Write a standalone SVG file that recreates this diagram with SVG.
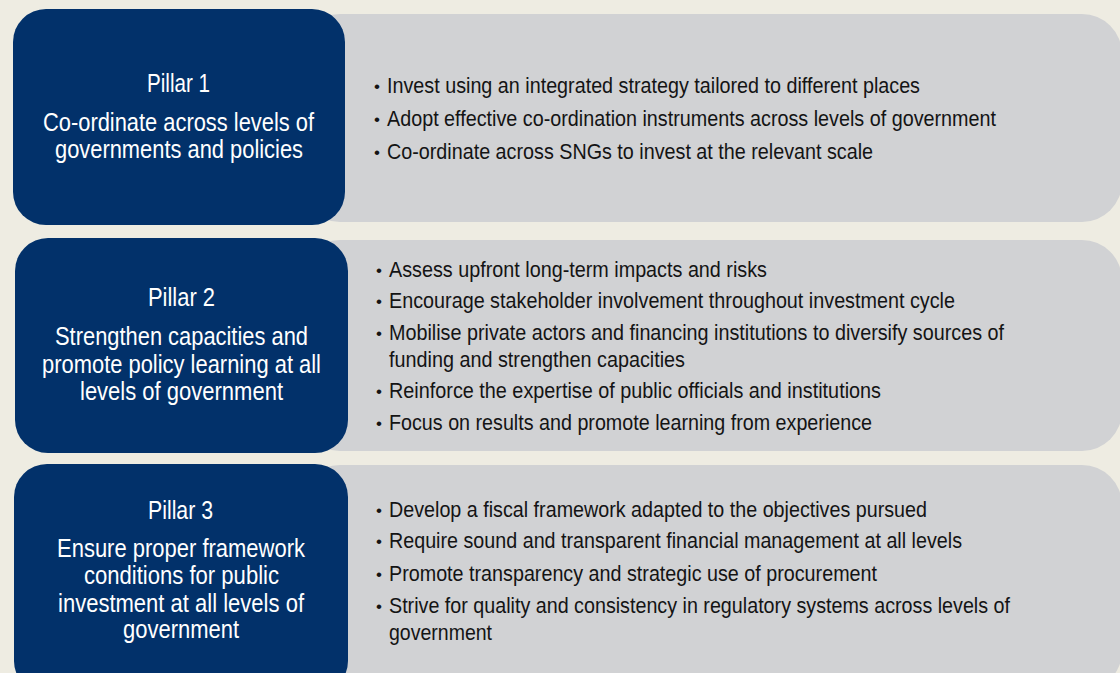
<svg xmlns="http://www.w3.org/2000/svg" width="1120" height="673" viewBox="0 0 1120 673">
<style>
.bg{fill:#EEECE2}
.gray{fill:#D1D2D4}
.navy{fill:#02316A}
.pt{font-family:"Liberation Sans",Arial,sans-serif;font-size:25px;fill:#FFFFFF;text-anchor:start}
.bt{font-family:"Liberation Sans",Arial,sans-serif;font-size:22px;fill:#141414}
.bu{font-family:"Liberation Sans",Arial,sans-serif;font-size:17px;fill:#141414}
</style>
<rect class="bg" x="0" y="0" width="1120" height="673"/>

<g id="pillar1">
  <rect class="gray" x="300" y="14" width="822" height="208" rx="40" ry="40"/>
  <rect class="navy" x="13" y="9" width="332" height="216" rx="33" ry="33"/>
  <text class="pt" x="147" y="92" textLength="63" lengthAdjust="spacingAndGlyphs">Pillar 1</text>
  <text class="pt" x="43" y="131" textLength="271" lengthAdjust="spacingAndGlyphs">Co-ordinate across levels of</text>
  <text class="pt" x="55" y="158" textLength="248" lengthAdjust="spacingAndGlyphs">governments and policies</text>
  <text class="bu" x="374" y="92">•</text>
  <text class="bt" x="387" y="93" textLength="533" lengthAdjust="spacingAndGlyphs">Invest using an integrated strategy tailored to different places</text>
  <text class="bu" x="374" y="125">•</text>
  <text class="bt" x="387" y="126" textLength="609" lengthAdjust="spacingAndGlyphs">Adopt effective co-ordination instruments across levels of government</text>
  <text class="bu" x="374" y="158">•</text>
  <text class="bt" x="387" y="159" textLength="486" lengthAdjust="spacingAndGlyphs">Co-ordinate across SNGs to invest at the relevant scale</text>
</g>

<g id="pillar2">
  <rect class="gray" x="300" y="240" width="822" height="211" rx="40" ry="40"/>
  <rect class="navy" x="15" y="238" width="333" height="215" rx="33" ry="33"/>
  <text class="pt" x="148" y="306" textLength="67" lengthAdjust="spacingAndGlyphs">Pillar 2</text>
  <text class="pt" x="55" y="345" textLength="253" lengthAdjust="spacingAndGlyphs">Strengthen capacities and</text>
  <text class="pt" x="42" y="373" textLength="279" lengthAdjust="spacingAndGlyphs">promote policy learning at all</text>
  <text class="pt" x="80" y="400" textLength="203" lengthAdjust="spacingAndGlyphs">levels of government</text>
  <text class="bu" x="376" y="276">•</text>
  <text class="bt" x="389" y="277" textLength="378" lengthAdjust="spacingAndGlyphs">Assess upfront long-term impacts and risks</text>
  <text class="bu" x="376" y="307">•</text>
  <text class="bt" x="389" y="308" textLength="566" lengthAdjust="spacingAndGlyphs">Encourage stakeholder involvement throughout investment cycle</text>
  <text class="bu" x="376" y="339">•</text>
  <text class="bt" x="389" y="340" textLength="615" lengthAdjust="spacingAndGlyphs">Mobilise private actors and financing institutions to diversify sources of</text>
  <text class="bt" x="389" y="367" textLength="296" lengthAdjust="spacingAndGlyphs">funding and strengthen capacities</text>
  <text class="bu" x="376" y="397">•</text>
  <text class="bt" x="389" y="398" textLength="492" lengthAdjust="spacingAndGlyphs">Reinforce the expertise of public officials and institutions</text>
  <text class="bu" x="376" y="429">•</text>
  <text class="bt" x="389" y="430" textLength="483" lengthAdjust="spacingAndGlyphs">Focus on results and promote learning from experience</text>
</g>

<g id="pillar3">
  <rect class="gray" x="300" y="465" width="822" height="226" rx="40" ry="40"/>
  <rect class="navy" x="14" y="464" width="334" height="230" rx="33" ry="33"/>
  <text class="pt" x="148" y="519" textLength="65" lengthAdjust="spacingAndGlyphs">Pillar 3</text>
  <text class="pt" x="57" y="557" textLength="248" lengthAdjust="spacingAndGlyphs">Ensure proper framework</text>
  <text class="pt" x="84" y="584" textLength="195" lengthAdjust="spacingAndGlyphs">conditions for public</text>
  <text class="pt" x="58" y="612" textLength="246" lengthAdjust="spacingAndGlyphs">investment at all levels of</text>
  <text class="pt" x="123" y="638" textLength="116" lengthAdjust="spacingAndGlyphs">government</text>
  <text class="bu" x="376" y="516">•</text>
  <text class="bt" x="389" y="517" textLength="538" lengthAdjust="spacingAndGlyphs">Develop a fiscal framework adapted to the objectives pursued</text>
  <text class="bu" x="376" y="547">•</text>
  <text class="bt" x="389" y="548" textLength="573" lengthAdjust="spacingAndGlyphs">Require sound and transparent financial management at all levels</text>
  <text class="bu" x="376" y="580">•</text>
  <text class="bt" x="389" y="581" textLength="488" lengthAdjust="spacingAndGlyphs">Promote transparency and strategic use of procurement</text>
  <text class="bu" x="376" y="612">•</text>
  <text class="bt" x="389" y="613" textLength="621" lengthAdjust="spacingAndGlyphs">Strive for quality and consistency in regulatory systems across levels of</text>
  <text class="bt" x="389" y="640" textLength="103" lengthAdjust="spacingAndGlyphs">government</text>
</g>
</svg>
